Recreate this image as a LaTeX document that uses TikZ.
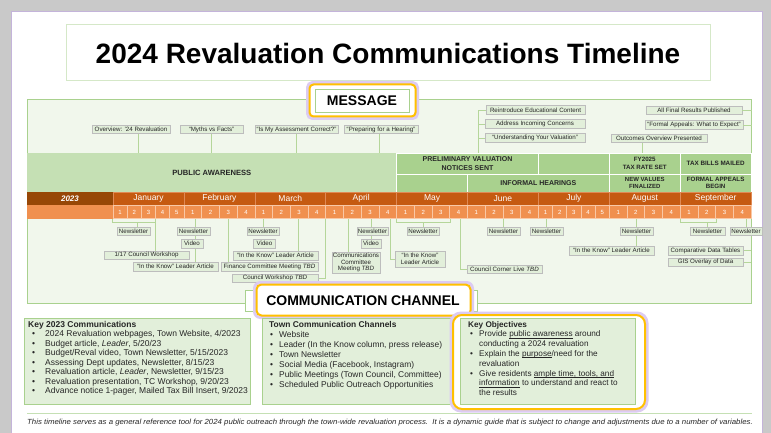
\documentclass[tikz,border=0pt]{standalone}
\usepackage{fontspec}
\usepackage{graphicx}
\setmainfont{Liberation Sans}
\usetikzlibrary{calc}
\definecolor{frameg}{HTML}{A9D18E}
\definecolor{framefill}{HTML}{F1F7EC}
\definecolor{itemfill}{HTML}{E2EFDA}
\definecolor{itemdraw}{HTML}{BDBDBD}
\definecolor{pafill}{HTML}{C5E0B4}
\definecolor{bandfill}{HTML}{A9D18E}
\definecolor{yearfill}{HTML}{974706}
\definecolor{monthfill}{HTML}{C55A11}
\definecolor{monthdraw}{HTML}{E08A55}
\definecolor{weekfill}{HTML}{F0904F}
\definecolor{weekdraw}{HTML}{F9C8A6}
\definecolor{conng}{HTML}{B5D69A}
\definecolor{hilite}{HTML}{FFC000}
\definecolor{glow}{HTML}{DCCBF2}
\definecolor{txt}{HTML}{262626}
\definecolor{shadowgray}{HTML}{C9C9C9}
\definecolor{pageborder}{HTML}{C4B4DA}
\definecolor{titleborder}{HTML}{D5E8C8}
\newcommand{\fs}[2]{\fontsize{#1}{#2}\selectfont}
\newcommand{\kbul}[1]{\hspace*{#1}\makebox[9pt][l]{•}}
\newcommand{\kbulA}{\hspace*{4pt}\makebox[13pt][l]{•}}
\newsavebox{\ulbox}
\newcommand{\uln}[1]{\leavevmode\sbox{\ulbox}{#1}\rlap{\rule[-1.2pt]{\wd\ulbox}{0.45pt}}\usebox{\ulbox}}
\tikzset{
  item/.style={draw=itemdraw, fill=itemfill, line width=0.5pt, inner sep=0.5pt,
    minimum height=8.5pt, font=\fs{6.2}{7}, text=txt, align=center},
  conn/.style={draw=conng, line width=0.8pt},
  bandcell/.style={fill=bandfill, draw=white, line width=0.8pt, text=txt,
    align=center, inner sep=0pt},
  month/.style={fill=monthfill, draw=monthdraw, line width=0.5pt, text=white,
    font=\fs{8.5}{10}, minimum width=70.9pt, minimum height=13pt, inner sep=0pt},
  week/.style={fill=weekfill, draw=weekdraw, line width=0.6pt, text=white,
    font=\fs{6}{7}, minimum height=12.5pt, inner sep=0pt},
  kbox/.style={draw=frameg, fill=itemfill, line width=0.8pt},
  ktext/.style={anchor=north west, align=left, inner sep=0pt, text=txt}
}
\begin{document}
\begin{tikzpicture}[x=1pt,y=-1pt]
\useasboundingbox (0,0) rectangle (771,433);
% background and page
\fill[shadowgray] (0,0) rectangle (771,433);
\fill[white] (11,12) rectangle (762,440);
\draw[pageborder, line width=1pt] (11,440) -- (11,12) -- (762,12) -- (762,440);

% title
\node[draw=titleborder, line width=1pt, fill=white, minimum width=644pt,
  minimum height=56pt, font=\bfseries\fs{28}{32}] (title) at (388,53)
  {2024 Revaluation Communications Timeline};

% timeline frame
\node[draw=frameg, fill=framefill, line width=1pt, minimum width=724pt,
  minimum height=203pt, inner sep=0pt] (frame) at (389,201.5) {};

% bands
\node[fill=pafill, minimum width=369.6pt, minimum height=39pt, inner sep=0pt,
  font=\bfseries\fs{7.6}{9}, text=txt] (pa) at (211.8,172.5) {PUBLIC AWARENESS};
\node[bandcell, minimum width=141.8pt, minimum height=21pt, font=\bfseries\fs{7}{8.5}]
  (b1) at (467.5,163.5) {PRELIMINARY VALUATION\\NOTICES SENT};
\node[bandcell, minimum width=70.9pt, minimum height=21pt] (b2) at (573.85,163.5) {};
\node[bandcell, minimum width=70.9pt, minimum height=21pt, font=\bfseries\fs{6.2}{7.8}]
  (b3) at (644.75,163.5) {FY2025\\TAX RATE SET};
\node[bandcell, minimum width=70.9pt, minimum height=21pt, font=\bfseries\fs{6.3}{7.8}]
  (b4) at (715.65,163.5) {TAX BILLS MAILED};
\node[bandcell, minimum width=70.9pt, minimum height=18pt] (b5) at (432.05,183) {};
\node[bandcell, minimum width=141.8pt, minimum height=18pt, font=\bfseries\fs{7}{8.5}]
  (b6) at (538.4,183) {INFORMAL HEARINGS};
\node[bandcell, minimum width=70.9pt, minimum height=18pt, font=\bfseries\fs{6}{7.2}]
  (b7) at (644.75,183) {NEW VALUES\\FINALIZED};
\node[bandcell, minimum width=70.9pt, minimum height=18pt, font=\bfseries\fs{6.2}{7.2}]
  (b8) at (715.65,183) {FORMAL APPEALS\\BEGIN};

% months and weeks
\fill[weekfill] (27,205) rectangle (751.1,219);
\node[fill=yearfill, minimum width=86pt, minimum height=13pt, inner sep=0pt,
  text=white, font=\bfseries\itshape\fs{8}{9}] (yr) at (70,198.5) {2023};
\foreach \m/\n [count=\i from 0] in {January/5,February/4,March/4,April/4,May/4,June/4,July/5,August/4,September/4}{
  \pgfmathsetmacro{\xs}{113+70.9*\i}
  \pgfmathsetmacro{\ww}{70.9/\n}
  \node[month] (mo\i) at (\xs+35.45,198.5) {\m};
  \foreach \w in {1,...,\n}{
    \node[week, minimum width=\ww pt] (wk\i-\w) at ({\xs+(\w-0.5)*\ww},212) {\w};
  }
}
\coordinate (wb) at (0,219);
\coordinate (br) at (0,222);
\coordinate (pt) at (0,153);
\coordinate (rb) at (478,153);
\coordinate (cwx) at (325.7,219);
\coordinate (ikx) at (390,219);
\coordinate (cclx) at (460,219);

% ---------- message items ----------
\node[item, minimum width=78pt] (m1) at (131,129.5) {Overview: ’24 Revaluation};
\node[item, minimum width=63pt] (m2) at (211.5,129.5) {“Myths vs Facts”};
\node[item, minimum width=83pt] (m3) at (296.5,129.5) {“Is My Assessment Correct?”};
\node[item, minimum width=74pt] (m4) at (381,129.5) {“Preparing for a Hearing”};
\node[item, minimum width=99pt] (r1) at (535.5,110) {Reintroduce Educational Content};
\node[item, minimum width=100pt] (r2) at (535,124) {Address Incoming Concerns};
\node[item, minimum width=100pt] (r3) at (535,138) {“Understanding Your Valuation”};
\node[item, minimum width=96pt] (r4) at (694,110.5) {All Final Results Published};
\node[item, minimum width=98pt] (r5) at (694,125) {“Formal Appeals: What to Expect”};
\node[item, minimum width=96pt] (r6) at (659,138.5) {Outcomes Overview Presented};

\draw[conn] ([xshift=7pt]m1.south) -- ([xshift=7pt]m1.south |- pt);
\draw[conn] (m2.south) -- (m2.south |- pt);
\draw[conn] (m3.south) -- (m3.south |- pt);
\draw[conn] ([xshift=-2pt]m4.south) -- ([xshift=-2pt]m4.south |- pt);
\draw[conn] (r1.west) -| (rb);
\draw[conn] (r2.west) -- (r2.west -| rb);
\draw[conn] (r3.west) -- (r3.west -| rb);
\draw[conn] (r4.east) -- (r4.east -| frame.east);
\draw[conn] (r5.east) -- (r5.east -| frame.east);
\draw[conn] ([xshift=-17pt]r6.south) -- ([xshift=-17pt]r6.south |- pt);

% ---------- communication connectors (drawn before the items) ----------
% January
\draw[conn] (wk0-1.south west) -- (wk0-1.south west |- br) -- (wk0-3.south east |- br) -- (wk0-3.south east);
\path (133.5,231) coordinate (n1c) (146.5,255) coordinate (cw1c);
\draw[conn] ([xshift=3.5pt]n1c |- br) -- ([xshift=3.5pt]n1c);
\draw[conn] ([xshift=8.5pt]cw1c |- wb) -- ([xshift=8.5pt]cw1c);
% February
\draw[conn] (195,219) -- (195,266);
% March
\draw[conn] (228,219) -- (228,266);
\draw[conn] (263,219) -- (263,231);
\draw[conn] (298,219) -- (298,255);
\draw[conn] (275,278) -| (cwx);
% April
\draw[conn] (348,219) -- (348,262);
\draw[conn] (371,219) -- (371,243);
\draw[conn] (420,259) -| (ikx);
% May
\draw[conn] (wk4-1.south west) -- (wk4-1.south west |- br) -- (wk4-3.south east |- br) -- (wk4-3.south east);
\draw[conn] (423,222) -- (423,231);
\draw[conn] (504,269) -| (cclx);
% June
\draw[conn] (503.5,219) -- (503.5,231);
\draw[conn] (546.5,219) -- (546.5,231);
% August
\draw[conn] (636.5,219) -- (636.5,250);
% September
\draw[conn] (wk8-1.south west) -- (wk8-1.south west |- br) -- (wk8-2.south east |- br) -- (wk8-2.south east);
\draw[conn] (707.5,222) -- (707.5,231);
\draw[conn] (746,219) -- (746,231);
\draw[conn] (705,250.5) -- (751,250.5);
\draw[conn] (705,262) -- (751,262);

% ---------- communication items ----------
\node[item, minimum width=33pt] (n1) at (n1c) {Newsletter};
\node[item, minimum width=85pt] (cw1) at (cw1c) {1/17 Council Workshop};
\node[item, minimum width=33pt] (n2) at (193.5,231) {Newsletter};
\node[item, minimum width=22pt] (v2) at (192,243.5) {Video};
\node[item, minimum width=85pt] (ik2) at (175.5,266.5) {“In the Know” Leader Article};
\node[item, minimum width=32pt] (n3) at (263,231) {Newsletter};
\node[item, minimum width=22pt] (v3) at (264.5,243.5) {Video};
\node[item, minimum width=85pt] (ik3) at (275.5,255.5) {“In the Know” Leader Article};
\node[item, minimum width=97pt] (fc) at (269.5,266.5) {Finance Committee Meeting \textit{TBD}};
\node[item, minimum width=86pt] (cw3) at (275,278) {Council Workshop \textit{TBD}};
\node[item, minimum width=48pt, minimum height=21pt, font=\fs{6.2}{6.8}] (ccm) at (356,262.5)
  {Communications\\Committee\\Meeting \textit{TBD}};
\node[item, minimum width=31pt] (n4) at (372.5,231) {Newsletter};
\node[item, minimum width=20pt] (v4) at (371,243.5) {Video};
\node[item, minimum width=50pt, minimum height=16pt, font=\fs{6.2}{7}] (ikm) at (420,259)
  {“In the Know”\\Leader Article};
\node[item, minimum width=32pt] (n5) at (423,231) {Newsletter};
\node[item, minimum width=75pt] (ccl) at (504.5,269) {Council Corner Live \textit{TBD}};
\node[item, minimum width=33pt] (n6) at (503.5,231) {Newsletter};
\node[item, minimum width=33pt] (n7) at (546.5,231) {Newsletter};
\node[item, minimum width=33pt] (n8) at (636.5,231) {Newsletter};
\node[item, minimum width=85pt] (ik8) at (611.5,250.5) {“In the Know” Leader Article};
\node[item, minimum width=35pt] (n9) at (707.5,231) {Newsletter};
\node[item, minimum width=32pt] (n10) at (746,231) {Newsletter};
\node[item, minimum width=75pt] (cdt) at (705.5,250.5) {Comparative Data Tables};
\node[item, minimum width=75pt] (gis) at (705.5,262) {GIS Overlay of Data};

% ---------- MESSAGE label ----------
\draw[glow, line width=3pt, rounded corners=5pt] (307.5,82.5) rectangle (417.5,118.5);
\draw[hilite, fill=white, line width=2pt, rounded corners=4pt] (309.5,84.5) rectangle (415.5,116.5);
\node[draw=frameg, line width=0.6pt, fill=white, minimum width=94pt, minimum height=23pt,
  font=\bfseries\fs{14}{16}] (msg) at (362,100.5) {MESSAGE};

% ---------- COMMUNICATION CHANNEL label ----------
\node[draw=frameg, line width=0.6pt, fill=white, minimum width=232pt, minimum height=21pt]
  (ccbox) at (361,300.5) {};
\draw[glow, line width=3pt, rounded corners=6pt] (254.5,282.5) rectangle (472.5,317.5);
\draw[hilite, fill=white, line width=2pt, rounded corners=5pt] (256.5,284.5) rectangle (470.5,315.5);
\node[font=\bfseries\fs{14}{16}] (cc) at (363,301) {COMMUNICATION CHANNEL};

% ---------- bottom boxes ----------
\draw[kbox] (24,318) rectangle (250,404);
\node[ktext, font=\fs{8.5}{9.5}] (k1) at (28,321) {\textbf{Key 2023 Communications}\\
\kbulA 2024 Revaluation webpages, Town Website, 4/2023\\
\kbulA Budget article, \textit{Leader}, 5/20/23\\
\kbulA Budget/Reval video, Town Newsletter, 5/15/2023\\
\kbulA Assessing Dept updates, Newsletter, 8/15/23\\
\kbulA Revaluation article, \textit{Leader}, Newsletter, 9/15/23\\
\kbulA Revaluation presentation, TC Workshop, 9/20/23\\
\kbulA Advance notice 1-pager, Mailed Tax Bill Insert, 9/2023};

\draw[kbox] (262,318) rectangle (450,404);
\node[ktext, font=\fs{8.4}{10}] (k2) at (269,321) {\textbf{Town Communication Channels}\\
\kbul{1pt}Website\\
\kbul{1pt}Leader (In the Know column, press release)\\
\kbul{1pt}Town Newsletter\\
\kbul{1pt}Social Media (Facebook, Instagram)\\
\kbul{1pt}Public Meetings (Town Council, Committee)\\
\kbul{1pt}Scheduled Public Outreach Opportunities};

\draw[glow, line width=3pt, rounded corners=10pt] (451,313) rectangle (647,411);
\draw[hilite, fill=white, line width=2pt, rounded corners=9pt] (453,315) rectangle (645,409);
\draw[kbox] (460,318) rectangle (635,404);
\node[ktext, font=\fs{8.2}{9.8}] (k3) at (468,321) {\textbf{Key Objectives}\\
\kbul{2pt}Provide \uln{public awareness} around\\
\hspace*{11pt}conducting a 2024 revaluation\\
\kbul{2pt}Explain the \uln{purpose}/need for the\\
\hspace*{11pt}revaluation\\
\kbul{2pt}Give residents \uln{ample time, tools, and}\\
\hspace*{11pt}\uln{information} to understand and react to\\
\hspace*{11pt}the results};

% ---------- footer ----------
\draw[pafill, line width=0.8pt] (27,413.5) -- (752,413.5);
\node[anchor=west, inner sep=0pt, font=\itshape\fs{7.4}{8}, text=txt] (foot) at (27,423)
  {\scalebox{1.055}[1]{This timeline serves as a general reference tool for 2024 public outreach through the town-wide revaluation process.\ \ It is a dynamic guide that is subject to change and adjustments due to a number of variables.}};
\end{tikzpicture}
\end{document}
